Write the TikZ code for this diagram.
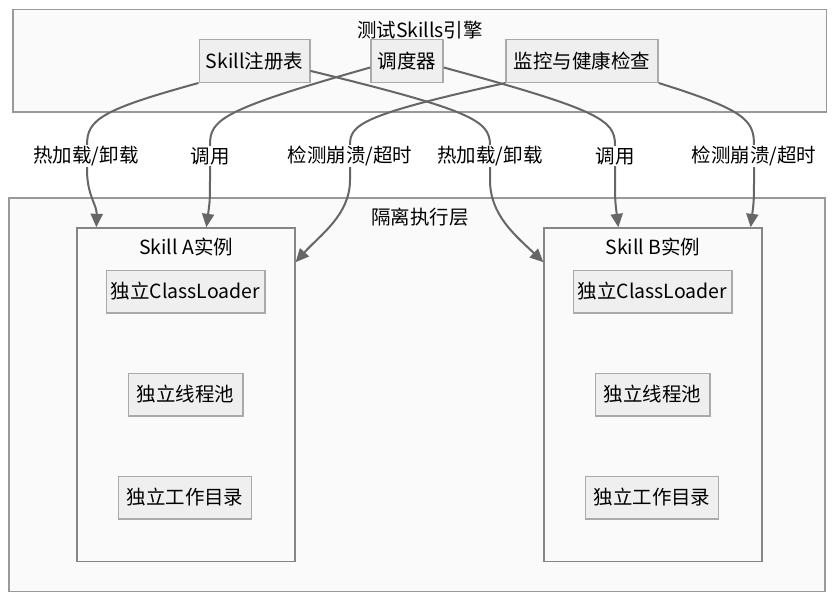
\documentclass[tikz,border=0pt]{standalone}
\usepackage{fontspec}
\setmainfont{Noto Sans CJK SC}
\usepackage{tikz}
\usetikzlibrary{positioning}
\usetikzlibrary{arrows.meta}
\usetikzlibrary{calc}

\definecolor{boxfill}{HTML}{EFEFEF}
\definecolor{boxline}{HTML}{AAAAAA}
\definecolor{grpfill}{HTML}{FAFAFA}
\definecolor{grpline}{HTML}{999999}
\definecolor{edgecol}{HTML}{666666}

\tikzset{
    compbox/.style={rectangle, fill=boxfill, draw=boxline, line width=1pt,
        minimum height=32pt, inner sep=0pt},
    grpbox/.style={rectangle, fill=grpfill, draw=grpline, line width=1pt,
        inner sep=0pt},
    flow/.style={draw=edgecol, line width=1.5pt,
        -{Triangle[length=10pt, width=9pt]}},
    flowlabel/.style={fill=white, inner sep=1pt}
}

\begin{document}
\begin{tikzpicture}[x=0.75pt, y=-0.75pt, font=\fontsize{14.6}{17}\selectfont]
        \useasboundingbox (0,0) rectangle (836,600);

        \node[grpbox, minimum width=610pt, minimum height=77pt]
        (engine) at (419.5,60.5) {};
        \node (enginetitle) at (420,30) {测试Skills引擎};

        \node[grpbox, minimum width=612pt, minimum height=295pt]
        (isolate) at (417,394.5) {};
        \node (isolatetitle) at (420,217) {隔离执行层};

        \node[compbox, minimum width=83pt] (reg) at (254.5,61) {Skill注册表};
        \node[compbox, minimum width=54pt] (sched) at (407,61) {调度器};
        \node[compbox, minimum width=114pt] (mon) at (582,61) {监控与健康检查};

        \foreach \s/\x in {A/186, B/653}
        {
            \node[grpbox, draw=edgecol!80, minimum width=163.5pt,
            minimum height=250pt] (inst\s) at (\x,394.5) {};
            \node (title\s) at (\x,247) {Skill \s{}实例};
            \node[compbox, minimum width=119pt] (loader\s) at (\x-0.5,291.5)
            {独立ClassLoader};
            \node[compbox, minimum width=86pt] (pool\s) at (\x-0.5,394.5)
            {独立线程池};
            \node[compbox, minimum width=100pt] (dir\s) at (\x-1,497.5)
            {独立工作目录};
        }

        % connectors from the engine down to the instances
        \draw[flow] (reg.south west) .. controls (100,110) and (87,120) ..
        (87,145) -- (87,170) .. controls (87,195) and (97,205) ..
        ($(instA.north west)+(20,0)$);
        \draw[flow] (sched.190) .. controls (220,110) and (210,120) ..
        (210,145) -- (210,175) .. controls (210,200) ..
        ($(instA.north west)+(130,0)$);
        \draw[flow] (mon.south west) .. controls (360,115) and (350,125) ..
        (350,145) -- (350,180) .. controls (350,215) and (320,235) ..
        ($(instA.north east)+(0,35)$);
        \draw[flow] (reg.-10) .. controls (470,110) and (490,120) ..
        (490,145) -- (490,180) .. controls (490,215) and (515,235) ..
        ($(instB.north west)+(0,35)$);
        \draw[flow] (sched.-10) .. controls (600,110) and (615,120) ..
        (615,145) -- (615,175) .. controls (615,200) ..
        ($(instB.north west)+(75,0)$);
        \draw[flow] (mon.south east) .. controls (745,110) and (754,120) ..
        (754,145) -- (754,175) .. controls (754,200) ..
        ($(instB.north east)+(-12,0)$);

        \node[flowlabel] (lblloadA) at (86,156) {热加载/卸载};
        \node[flowlabel] (lblcallA) at (210,156) {调用};
        \node[flowlabel] (lblwatchA) at (350,156) {检测崩溃/超时};
        \node[flowlabel] (lblloadB) at (490,156) {热加载/卸载};
        \node[flowlabel] (lblcallB) at (615,156) {调用};
        \node[flowlabel] (lblwatchB) at (754,156) {检测崩溃/超时};
    \end{tikzpicture}
\end{document}
